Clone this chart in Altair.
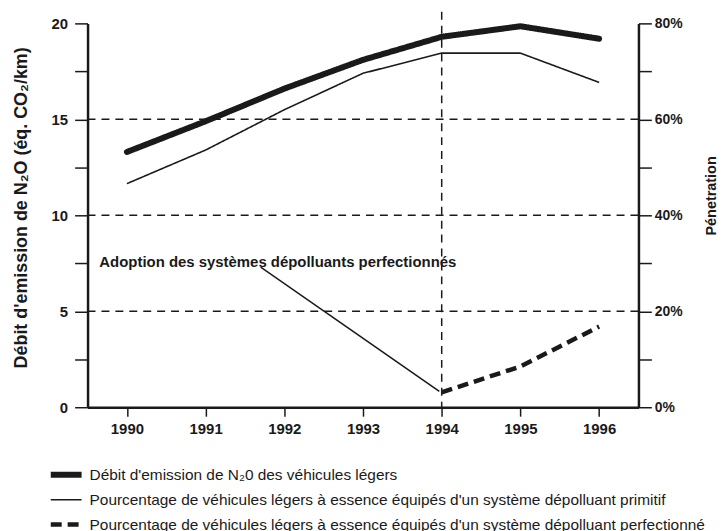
import altair as alt
import pandas as pd

# ---- data ----
years = [1990, 1991, 1992, 1993, 1994, 1995, 1996]
n2o_rate = [13.3, 14.9, 16.6, 18.1, 19.3, 19.85, 19.2]          # éq. CO2/km
primitive_pct = [46.6, 53.6, 62.0, 69.6, 73.8, 73.8, 67.7]     # %
advanced_years = [1994, 1995, 1996]
advanced_pct = [3.1, 8.5, 16.8]                                 # %
grid_values = [5, 10, 15]
adoption_year = 1994
adoption_top = 20.6
annot_text = ["Adoption des systèmes dépolluants perfectionnés"]
annot_text_pos = [1989.65, 7.55]
annot_line = [1991.70, 7.3, 1993.97, 0.83]

S1 = "Débit d'emission de N₂0 des véhicules légers"
S2 = "Pourcentage de véhicules légers à essence équipés d'un système dépolluant primitif"
S3 = "Pourcentage de véhicules légers à essence équipés d'un système dépolluant perfectionné"
series = [S1, S2, S3]

left_ticks = [0, 2.5, 5, 7.5, 10, 12.5, 15, 17.5, 20]
right_ticks = [0, 10, 20, 30, 40, 50, 60, 70, 80]

INK = "#1a1a1a"
FONT = "Liberation Sans"

df_n2o = pd.DataFrame({"year": years, "val": n2o_rate, "serie": S1})
df_pct = pd.concat([
    pd.DataFrame({"year": years, "val": primitive_pct, "serie": S2}),
    pd.DataFrame({"year": advanced_years, "val": advanced_pct, "serie": S3}),
])
df_grid = pd.DataFrame({"v": grid_values})
df_vline = pd.DataFrame({"x": [adoption_year], "y": [adoption_top], "y0": [0]})
df_text = pd.DataFrame({"x": [annot_text_pos[0]], "y": [annot_text_pos[1]], "t": annot_text})
df_aline = pd.DataFrame({"x": [annot_line[0]], "y": [annot_line[1]],
                         "x2": [annot_line[2]], "y2": [annot_line[3]]})

xscale = alt.Scale(domain=[1989.5, 1996.5], nice=False, zero=False)
yL = alt.Scale(domain=[0, 20], nice=False)
yR = alt.Scale(domain=[0, 80], nice=False)

x_axis = alt.Axis(values=years, format="d", title=None, tickSize=9, labelPadding=5,
                  grid=False, domainWidth=2.5, tickWidth=1.5)

left_axis = alt.Axis(
    values=left_ticks, labelExpr="datum.value % 5 == 0 ? datum.value : ''",
    tickSize=13, labelPadding=7, grid=False, domainWidth=2.5, tickWidth=1.5,
    title="Débit d'emission de N₂O (éq. CO₂/km)", titleFontSize=18,
    titleX=-66, titleY=185, titleAngle=270, titleAlign="center", titleBaseline="middle")

legend = alt.Legend(orient="none", legendX=-40, legendY=444, direction="vertical",
                    title=None, labelFont=FONT, labelFontSize=15.5, labelFontWeight="normal",
                    labelColor=INK, labelLimit=700, symbolType="stroke", symbolSize=961,
                    symbolStrokeColor=INK, labelOffset=5, rowPadding=5, clipHeight=20)

sw = alt.StrokeWidth("serie:N", scale=alt.Scale(type="ordinal", domain=series, range=[6, 1.6, 4.5]),
                     legend=legend)
sd = alt.StrokeDash("serie:N", scale=alt.Scale(type="ordinal", domain=series,
                                               range=[[1, 0], [1, 0], [11, 6]]),
                    legend=legend)

grid = alt.Chart(df_grid).mark_rule(strokeDash=[8, 6], strokeWidth=1.5, color=INK).encode(
    y=alt.Y("v:Q", scale=yL, axis=left_axis))

vline = alt.Chart(df_vline).mark_rule(strokeDash=[8, 6], strokeWidth=1.5, color=INK).encode(
    x=alt.X("x:Q", scale=xscale, axis=x_axis),
    y=alt.Y("y:Q", scale=yL, axis=left_axis), y2="y0:Q")

n2o = alt.Chart(df_n2o).mark_line(color=INK, strokeCap="round", strokeJoin="round").encode(
    x=alt.X("year:Q", scale=xscale, axis=x_axis),
    y=alt.Y("val:Q", scale=yL, axis=left_axis),
    strokeWidth=sw, strokeDash=sd)

text = alt.Chart(df_text).mark_text(align="left", baseline="middle", fontWeight="bold",
                                    fontSize=15, font=FONT, color=INK).encode(
    x=alt.X("x:Q", scale=xscale, axis=x_axis),
    y=alt.Y("y:Q", scale=yL, axis=left_axis), text="t:N")

aline = alt.Chart(df_aline).mark_rule(strokeWidth=1.5, color=INK).encode(
    x=alt.X("x:Q", scale=xscale, axis=x_axis),
    y=alt.Y("y:Q", scale=yL, axis=left_axis),
    x2="x2:Q", y2="y2:Q")

left = alt.layer(grid, vline, n2o, text, aline)

pct = alt.Chart(df_pct).mark_line(color=INK, strokeJoin="round").encode(
    x=alt.X("year:Q", scale=xscale, axis=x_axis),
    y=alt.Y("val:Q", scale=yR, axis=alt.Axis(
        orient="right", values=right_ticks,
        labelExpr="datum.value % 20 == 0 ? datum.value + '%' : ''",
        tickSize=13, labelPadding=3, grid=False, domainWidth=2.5, tickWidth=1.5,
        labelFontSize=14,
        title="Pénetration", titleFontSize=14.5, titleX=73, titleY=173,
        titleAngle=270, titleAlign="center", titleBaseline="middle")),
    strokeWidth=sw, strokeDash=sd, detail="serie:N")

chart = alt.layer(left, pct).resolve_scale(y="independent").properties(
    width=554, height=386, autosize="none",
    padding={"left": 80, "top": 14, "right": 80, "bottom": 123},
    background="white",
).configure_view(stroke=None).configure_axis(
    labelFont=FONT, labelFontWeight="bold", labelFontSize=15, labelColor=INK,
    titleFont=FONT, titleFontWeight="bold", titleColor=INK,
    domainColor=INK, tickColor=INK,
)

chart.save("out.html", embed_options={"renderer": "svg", "actions": False})
